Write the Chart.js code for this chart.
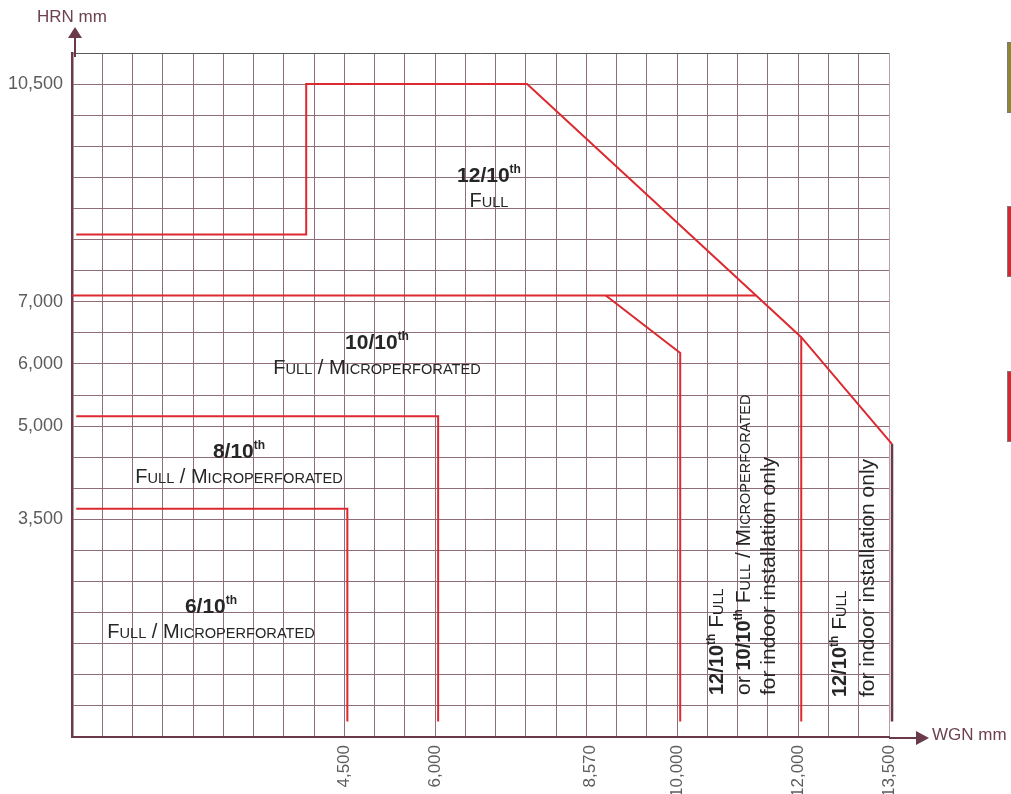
<!DOCTYPE html>
<html>
<head>
<meta charset="utf-8">
<script src="https://cdn.jsdelivr.net/npm/chart.js@4/dist/chart.umd.min.js"></script>
<style>
html,body{margin:0;padding:0;overflow:hidden;background:#fff;width:1011px;height:794px;}
#wrap{position:relative;width:1011px;height:794px;overflow:hidden;}
#c{position:absolute;left:0;top:0;}
.sw{position:absolute;left:1007px;width:14px;height:71px;border:1px solid #7a7a7a;box-sizing:border-box;}
</style>
</head>
<body>
<div id="wrap">
<canvas id="c" width="1011" height="794"></canvas>
<div class="sw" style="top:42px;background:#8b892e"></div>
<div class="sw" style="top:206px;background:#d7262e"></div>
<div class="sw" style="top:371px;background:#d7262e"></div>
</div>
<script>
// ---- axes ----
const X_MAX = 13500;           // WGN mm
const Y_MAX = 11000;           // HRN mm
const GRID_STEP = 500;
const xTickLabels = [4500, 6000, 8570, 10000, 12000, 13500];
const yTickLabels = [3500, 5000, 6000, 7000, 10500];

// ---- boundary lines (WGN mm / HRN mm) ----
const limit6X = [70, 4550, 4550];
const limit6Y = [3670, 3670, 250];
const limit8X = [70, 6050, 6050];
const limit8Y = [5160, 5160, 250];
const limit7000X = [0, 11300];
const limit7000Y = [7100, 7100];
const limit10X = [8820, 10050, 10050];
const limit10Y = [7100, 6175, 250];
const limit12X = [70, 3870, 3870, 7520, 12050, 13550];
const limit12Y = [8080, 8080, 10500, 10500, 6430, 4710];
const indoor12X = [12050, 12050];
const indoor12Y = [6430, 250];
const maxWidthX = [13550, 13550];
const maxWidthY = [4710, 250];

// ---- region labels ----
const regionTitles = ['12/10', '10/10', '8/10', '6/10'];
const regionSubtitles = ['Full', 'Full / Microperforated', 'Full / Microperforated', 'Full / Microperforated'];
const regionAnchorX = [6890, 5040, 2760, 2297];
const regionAnchorY = [8925, 6240, 4487, 1994];

const RED = '#dc2a30';
const MAROON = '#6b3a4a';
const GRID = '#8f6d79';
const TEXT = '#262626';
const FONT = '"Liberation Sans", Arial, Helvetica, sans-serif';

function pts(xs, ys) { return xs.map((x, i) => ({ x: x, y: ys[i] })); }
function ds(xs, ys, color, width) {
  return { data: pts(xs, ys), borderColor: color, borderWidth: width, showLine: true,
           pointRadius: 0, fill: false, tension: 0, clip: false };
}
function fmt(v) { return v.toLocaleString('en-US'); }

function f(weight, size) { return weight + ' ' + size + 'px ' + FONT; }
function capsParts(phrase, big, small) {
  const out = [];
  phrase.split(' / ').forEach((w, i) => {
    if (i > 0) out.push({ t: ' / ', font: f('normal', big) });
    out.push({ t: w[0].toUpperCase(), font: f('normal', big) });
    out.push({ t: w.slice(1).toUpperCase(), font: f('normal', small) });
  });
  return out;
}
function fracParts(num, size, sup) {
  return [{ t: num, font: f('bold', size) }, { t: 'th', font: f('bold', sup), dy: -size * 0.42 }];
}
function rich(ctx, parts, x, y, align, rotate) {
  ctx.save();
  ctx.translate(x, y);
  if (rotate) ctx.rotate(-Math.PI / 2);
  ctx.textBaseline = 'alphabetic';
  ctx.textAlign = 'left';
  let w = 0;
  parts.forEach(p => { ctx.font = p.font; p.w = ctx.measureText(p.t).width; w += p.w; });
  let cx = align === 'center' ? -w / 2 : 0;
  parts.forEach(p => { ctx.font = p.font; ctx.fillStyle = TEXT; ctx.fillText(p.t, cx, p.dy || 0); cx += p.w; });
  ctx.restore();
}

const decor = {
  id: 'decor',
  afterDraw(chart) {
    const ctx = chart.ctx, a = chart.chartArea, xs = chart.scales.x, ys = chart.scales.y;
    // region labels
    regionTitles.forEach((t, i) => {
      const px = xs.getPixelForValue(regionAnchorX[i]);
      const py = ys.getPixelForValue(regionAnchorY[i]);
      rich(ctx, fracParts(t, 21, 12), px, py, 'center', false);
      rich(ctx, capsParts(regionSubtitles[i], 20, 14.6), px, py + 25, 'center', false);
    });
    // vertical notes
    const yb1 = ys.getPixelForValue(675), yb2 = ys.getPixelForValue(643);
    rich(ctx, fracParts('12/10', 20, 12).concat([{ t: ' ', font: f('normal', 21) }], capsParts('Full', 21, 14.5)),
         xs.getPixelForValue(10757), yb1, 'left', true);
    rich(ctx, [{ t: 'or ', font: f('normal', 21) }].concat(fracParts('10/10', 20, 12), [{ t: ' ', font: f('normal', 21) }], capsParts('Full / Microperforated', 21, 14.5)),
         xs.getPixelForValue(11203), yb1, 'left', true);
    rich(ctx, [{ t: 'for indoor installation only', font: f('normal', 21) }],
         xs.getPixelForValue(11616), yb1, 'left', true);
    rich(ctx, fracParts('12/10', 20, 12).concat([{ t: ' ', font: f('normal', 21) }], capsParts('Full', 21, 14.5)),
         xs.getPixelForValue(12789), yb2, 'left', true);
    rich(ctx, [{ t: 'for indoor installation only', font: f('normal', 21) }],
         xs.getPixelForValue(13252), yb2, 'left', true);

    // axis arrows
    ctx.save();
    ctx.strokeStyle = MAROON; ctx.fillStyle = MAROON; ctx.lineWidth = 2;
    const ax = a.left + 3;
    ctx.beginPath(); ctx.moveTo(ax, a.top + 4); ctx.lineTo(ax, a.top - 17); ctx.stroke();
    ctx.beginPath(); ctx.moveTo(ax, a.top - 26); ctx.lineTo(ax - 7, a.top - 15); ctx.lineTo(ax + 7, a.top - 15); ctx.closePath(); ctx.fill();
    const ay = a.bottom + 1;
    ctx.beginPath(); ctx.moveTo(a.right, ay); ctx.lineTo(a.right + 30, ay); ctx.stroke();
    ctx.beginPath(); ctx.moveTo(a.right + 40, ay); ctx.lineTo(a.right + 27, ay - 7); ctx.lineTo(a.right + 27, ay + 7); ctx.closePath(); ctx.fill();
    ctx.font = '17px ' + FONT; ctx.textBaseline = 'middle'; ctx.textAlign = 'left';
    ctx.fillStyle = '#6e4152';
    ctx.fillText('HRN mm', 37, 17);
    ctx.fillText('WGN mm', a.right + 43, ay - 3);
    ctx.restore();
  }
};

new Chart(document.getElementById('c'), {
  type: 'scatter',
  data: {
    datasets: [
      ds(limit6X, limit6Y, RED, 2),
      ds(limit8X, limit8Y, RED, 2),
      ds(limit7000X, limit7000Y, RED, 2),
      ds(limit10X, limit10Y, RED, 2),
      ds(limit12X, limit12Y, RED, 2),
      ds(indoor12X, indoor12Y, RED, 2),
      ds(maxWidthX, maxWidthY, MAROON, 2.5)
    ]
  },
  options: {
    responsive: false,
    animation: false,
    devicePixelRatio: 1,
    layout: { padding: { left: 0, top: 53, right: 122, bottom: 0 } },
    plugins: { legend: { display: false }, tooltip: { enabled: false } },
    scales: {
      x: {
        type: 'linear', min: 0, max: X_MAX,
        afterBuildTicks(s) {
          const t = [];
          for (let v = 0; v <= X_MAX; v += GRID_STEP) t.push({ value: v });
          xTickLabels.forEach(v => { if (v % GRID_STEP) t.push({ value: v }); });
          t.sort((p, q) => p.value - q.value);
          s.ticks = t;
        },
        afterFit(s) { s.height = 57; },
        grid: {
          color: c => (c.tick && xTickLabels.includes(c.tick.value) && c.tick.value % GRID_STEP) ? 'rgba(0,0,0,0)' :
                      (c.tick && c.tick.value === X_MAX ? '#b79ea7' : GRID),
          lineWidth: 1, drawTicks: false
        },
        border: { color: MAROON, width: 2 },
        ticks: {
          autoSkip: false, minRotation: 90, maxRotation: 90, padding: 8,
          color: '#5c5c5c', font: { family: FONT, size: 17 },
          callback: v => xTickLabels.includes(v) ? fmt(v) : ''
        }
      },
      y: {
        type: 'linear', min: 0, max: Y_MAX,
        afterBuildTicks(s) {
          const t = [];
          for (let v = 0; v <= Y_MAX; v += GRID_STEP) t.push({ value: v });
          s.ticks = t;
        },
        afterFit(s) { s.width = 72; },
        grid: {
          color: c => (c.tick && c.tick.value === Y_MAX) ? '#5a5a5a' : GRID,
          lineWidth: 1, drawTicks: false
        },
        border: { color: MAROON, width: 2.5 },
        ticks: {
          autoSkip: false, padding: 9,
          color: '#5c5c5c', font: { family: FONT, size: 18 },
          callback: v => yTickLabels.includes(v) ? fmt(v) : ''
        }
      }
    }
  },
  plugins: [decor]
});
</script>
</body>
</html>
